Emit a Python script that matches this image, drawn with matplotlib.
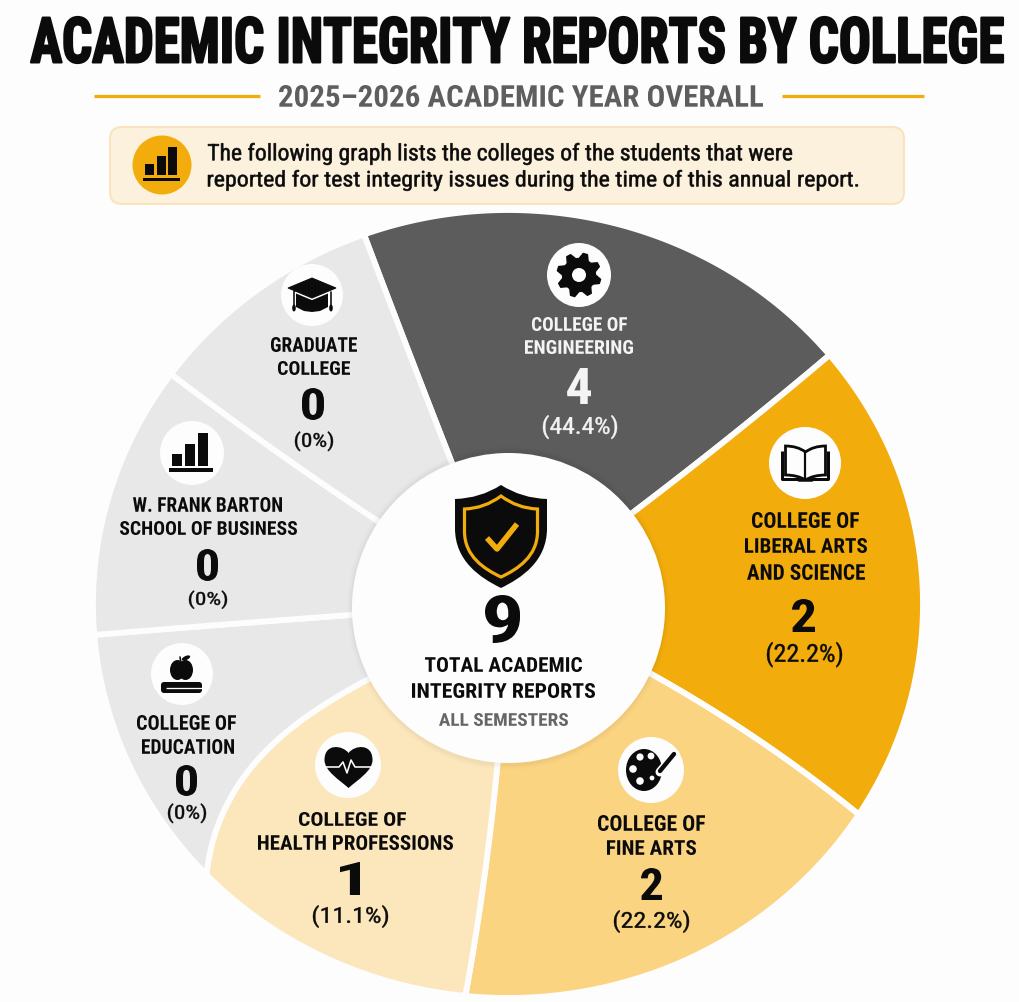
import numpy as np
import matplotlib
matplotlib.use("Agg")
import matplotlib.pyplot as plt
from matplotlib import font_manager as fm
from matplotlib.font_manager import FontProperties
from matplotlib.patches import Circle, Ellipse, FancyBboxPatch, PathPatch, Polygon, Rectangle
from matplotlib.path import Path
from matplotlib.patheffects import AbstractPathEffect
from matplotlib.textpath import TextPath
from matplotlib.transforms import Affine2D, Bbox

# ---- data ----
title = "ACADEMIC INTEGRITY REPORTS BY COLLEGE"
subtitle = "2025\u20132026 ACADEMIC YEAR OVERALL"
note_lines = ["The following graph lists the colleges of the students that were",
              "reported for test integrity issues during the time of this annual report."]
college_lines = [["COLLEGE OF", "ENGINEERING"],
                 ["COLLEGE OF", "LIBERAL ARTS", "AND SCIENCE"],
                 ["COLLEGE OF", "FINE ARTS"],
                 ["COLLEGE OF", "HEALTH PROFESSIONS"],
                 ["COLLEGE OF", "EDUCATION"],
                 ["W. FRANK BARTON", "SCHOOL OF BUSINESS"],
                 ["GRADUATE", "COLLEGE"]]
report_counts = [4, 2, 2, 1, 0, 0, 0]
report_shares = ["(44.4%)", "(22.2%)", "(22.2%)", "(11.1%)", "(0%)", "(0%)", "(0%)"]
# slice sizes as drawn in the infographic (degrees; not proportional to the counts)
drawn_sweep = [71.1, 71.5, 63.6, 40.7, 38.9, 40.2, 34.0]
total_reports = 9
center_lines = ["TOTAL ACADEMIC", "INTEGRITY REPORTS"]
center_note = "ALL SEMESTERS"

# ---- styles ----
BG = "#FDFDFD"
GOLD = "#F2AD0C"
slice_colors = ["#5C5C5C", GOLD, "#FBD482", "#FCE7BC", "#E8E8E8", "#E8E8E8", "#E8E8E8"]
INK = "#0B0B0B"
W, H = 1019, 1002
START_ANGLE = 110.3
# the dividers are not quite radial: angle offset at the hub and bend of each slice's leading edge
edge_skew = [0.4, -1.6, 5.3, 2.5, -13.9, -0.3, 1.9]
edge_bend = [1, 1, 1, 1, 2.3, 1, 1]

def pick_family():
    for fam in ["Liberation Sans Narrow", "Roboto Condensed", "Liberation Sans"]:
        try:
            fm.findfont(FontProperties(family=fam), fallback_to_default=False)
            return fam
        except ValueError:
            pass
    return "DejaVu Sans"
FAMILY = pick_family()

class VStretch(AbstractPathEffect):
    """Stretch glyphs vertically about their baseline, optionally emboldening."""
    def __init__(self, sy, embolden=0.0):
        super().__init__()
        self.sy, self.embolden = sy, embolden
    def draw_path(self, renderer, gc, tpath, affine, rgbFace=None):
        by = affine.transform_point((0, 0))[1]
        new = affine + Affine2D().translate(0, -by).scale(1, self.sy).translate(0, by)
        gc0 = renderer.new_gc()
        gc0.copy_properties(gc)
        if self.embolden > 0:
            gc0.set_linewidth(self.embolden)
            gc0.set_foreground(rgbFace)
            gc0.set_joinstyle("round")
        else:
            gc0.set_linewidth(0)
        renderer.draw_path(gc0, tpath, new, rgbFace)
        gc0.restore()

fig = plt.figure(figsize=(W / 100, H / 100), dpi=100, facecolor=BG)

# ---- donut ----
L, R, T, B = 93, 923, 210, 998
pie_ax = fig.add_axes([L / W, 1 - B / H, (R - L) / W, (B - T) / H])
wedges, _ = pie_ax.pie(drawn_sweep, colors=slice_colors, startangle=START_ANGLE, counterclock=False,
                       radius=1.0, wedgeprops=dict(edgecolor=BG, linewidth=4.2))
pie_ax.set_aspect("auto")
pie_ax.set_xlim(-1, 1)
pie_ax.set_ylim(-1, 1)

HUB = 0.36
def edge_points(i):
    """Divider i from hub to rim, as unit-circle points."""
    outer = START_ANGLE - sum(drawn_sweep[:i])
    rs = np.linspace(HUB, 1, 30)
    t = (rs - HUB) / (1 - HUB)
    ang = np.radians(outer + edge_skew[i] * (1 - t ** edge_bend[i]))
    return np.c_[rs * np.cos(ang), rs * np.sin(ang)]

for i, w in enumerate(wedges):
    j = (i + 1) % len(wedges)
    a0 = START_ANGLE - sum(drawn_sweep[:i])
    arc = np.radians(np.linspace(a0, a0 - drawn_sweep[i], 90))
    verts = np.vstack([edge_points(i), np.c_[np.cos(arc), np.sin(arc)], edge_points(j)[::-1]])
    verts = np.vstack([verts, verts[:1]])
    codes = [Path.MOVETO] + [Path.LINETO] * (len(verts) - 2) + [Path.CLOSEPOLY]
    w._path = Path(verts, codes)

# ---- overlay in picture pixels ----
ov = fig.add_axes([0, 0, 1, 1], facecolor="none")
ov.set_xlim(0, W)
ov.set_ylim(H, 0)
ov.axis("off")
PX = 0.72

def fit(s, l, r, t, b, color=INK, weight="bold", embolden=0.0, vref=None):
    """Place s so its ink fills x l..r; t..b is the ink height of vref (default s)."""
    fp = FontProperties(family=FAMILY, weight=weight)
    ext = TextPath((0, 0), s, size=100, prop=fp).get_extents()
    vext = TextPath((0, 0), vref, size=100, prop=fp).get_extents() if vref else ext
    k = (r - l) / ext.width
    sy = (b - t) / (vext.height * k)
    base = b + vext.y0 * k * sy
    txt = ov.text(l - ext.x0 * k, base, s, fontproperties=fp, fontsize=100 * k * 72 / 100,
                  ha="left", va="baseline", color=color, zorder=6,
                  path_effects=[VStretch(sy, embolden)])
    # the stretch is invisible to layout, so report the box of the ink actually drawn
    y_top = base - ext.y1 * k * sy
    y_bot = base - ext.y0 * k * sy
    ink = Bbox.from_extents(l, H - y_bot, r, H - y_top)
    txt.get_window_extent = lambda renderer=None, dpi=None: ink
    return txt

def shape(verts, codes, fc=INK, ec="none", lw=0, z=5):
    ov.add_patch(PathPatch(Path(verts, codes), fc=fc, ec=ec, lw=lw, zorder=z))

def line(xs, ys, color=INK, lw=2, z=5, cap="round"):
    ov.plot(xs, ys, color=color, lw=lw * PX, zorder=z, solid_capstyle=cap, solid_joinstyle="round")

def rect(x0, y0, x1, y1, fc=INK, z=5):
    ov.add_patch(Rectangle((x0, y0), x1 - x0, y1 - y0, fc=fc, ec="none", zorder=z))

def badge(cx, cy, r):
    ov.add_patch(Circle((cx, cy), r, fc=BG, ec="none", zorder=4))

def bars_icon(x0, x1, base_top, base_bot, bars):
    rect(x0, base_top, x1, base_bot)
    for a, b, top, bot in bars:
        rect(a, top, b, bot)

def shield(cx, top, corner, w, bot, **kw):
    mid = corner + (bot - corner) * 0.33
    v = [(cx, top), (cx - w * .45, corner - (corner - top) * .05), (cx - w, corner),
         (cx - w, mid), (cx - w, mid + (bot - mid) * .55), (cx - w * .45, bot - (bot - mid) * .17), (cx, bot),
         (cx + w * .45, bot - (bot - mid) * .17), (cx + w, mid + (bot - mid) * .55), (cx + w, mid),
         (cx + w, corner), (cx + w * .45, corner - (corner - top) * .05), (cx, top), (cx, top)]
    c = [Path.MOVETO, Path.CURVE3, Path.CURVE3, Path.LINETO, Path.CURVE4, Path.CURVE4, Path.CURVE4,
         Path.CURVE4, Path.CURVE4, Path.CURVE4, Path.LINETO, Path.CURVE3, Path.CURVE3, Path.CLOSEPOLY]
    shape(v, c, **kw)

# header
fit(title, 31, 1003, 17, 63, embolden=1.6)
fit(subtitle, 279, 763, 85, 107, color="#5E5E5E")
line([94, 260], [96, 96], GOLD, 3.2, cap="butt")
line([782, 924], [96, 96], GOLD, 3.2, cap="butt")
ov.add_patch(FancyBboxPatch((110, 127), 794, 77, boxstyle="round,pad=0,rounding_size=12",
                            fc="#FCF1DC", ec="#F9E4BF", lw=1.5, zorder=2))
ov.add_patch(Circle((162, 165), 29.5, fc=GOLD, ec="none", zorder=4))
bars_icon(143, 180, 177.5, 181, [(145, 154, 164, 175), (157, 166, 156, 175), (168, 177, 147, 175)])
fit(note_lines[0], 208, 792, 143, 165, weight="normal", embolden=0.4)
fit(note_lines[1], 208, 858, 170, 191, weight="normal", embolden=0.4)

# slice label boxes (left, right, top, bottom) in picture pixels
name_boxes = [
    [(532, 627, 317, 331), (525, 633, 340, 354)],
    [(752, 859, 512, 528), (745, 867, 538, 553), (747, 865, 564, 580)],
    [(598, 705, 815, 831), (607, 696, 840, 855)],
    [(299, 406, 812, 826), (258, 453, 835, 850)],
    [(137, 236, 715, 730), (142, 234, 739, 754)],
    [(133, 282, 497, 512), (120, 297, 521, 535)],
    [(271, 357, 337, 352), (278, 350, 361, 375)],
]
count_boxes = [(567, 591, 368, 404), (792, 815, 599, 632), (641, 662, 868, 900), (340, 360, 862, 895),
               (176, 197, 765, 796), (197, 218, 549, 581), (302, 324, 388, 420)]
# top/bottom here are those of the digits inside the brackets
share_boxes = [(543, 617, 417, 434), (767, 842, 644, 662), (614, 689, 912, 928), (313, 388, 907, 923),
               (168, 206, 805, 819), (189, 227, 592, 605), (295, 333, 433, 447)]
text_colors = ["#F4F4F4"] + [INK] * 6
for lines, nb, cnt, cb, sh, sb, col in zip(college_lines, name_boxes, report_counts, count_boxes,
                                           report_shares, share_boxes, text_colors):
    for s, b in zip(lines, nb):
        fit(s, *b, color=col)
    fit(str(cnt), *cb, color=col)
    fit(sh, *sb, color=col, weight="normal", embolden=0.3, vref="0")

# icon badges
badge(579, 275, 32); badge(805, 463, 36); badge(651, 770, 33); badge(348, 765, 33)
badge(182, 674, 31); badge(192, 453, 32); badge(312, 295, 31)

# gear
teeth = 8
ang = np.linspace(0, 2 * np.pi, teeth * 4, endpoint=False) + np.pi / teeth / 2
rad = np.tile([22, 22, 16.5, 16.5], teeth)
ov.add_patch(Polygon(np.c_[579 + rad * np.cos(ang), 275 + rad * np.sin(ang)], fc=INK, ec=INK, lw=1, joinstyle="round", zorder=5))
ov.add_patch(Circle((579, 275), 7, fc=BG, ec="none", zorder=6))

# book
for sgn in (-1, 1):
    cx = 805.5
    v = [(cx, 452), (cx + sgn * 8, 446), (cx + sgn * 20, 446), (cx + sgn * 20, 446), (cx + sgn * 20, 475),
         (cx + sgn * 8, 475), (cx, 480)]
    c = [Path.MOVETO, Path.CURVE3, Path.CURVE3, Path.LINETO, Path.LINETO, Path.CURVE3, Path.CURVE3]
    shape(v, c, fc="none", ec=INK, lw=2.8 * PX)
    line([cx + sgn * 23, cx + sgn * 23, cx + sgn * 6], [451, 479, 479], INK, 3, cap="butt")
line([799, 812], [480, 480], INK, 3.5)
line([805.5, 805.5], [452, 479], INK, 2.2)

# palette
ov.add_patch(Ellipse((644, 770), 36, 42, fc=INK, ec="none", zorder=5))
for dx, dy, r in [(-4, -13, 3.6), (7, -14, 3.4), (-11, -1, 3.8), (-4, 11, 3.8), (8, 8, 2.4)]:
    ov.add_patch(Circle((644 + dx, 770 + dy), r, fc=BG, ec="none", zorder=6))
line([660, 675], [772, 754], BG, 9, z=6)
line([660, 674], [771, 754], INK, 4.4, z=7)

# heart with pulse
cx = 348.5
shape([(cx, 753), (cx - 6, 745), (cx - 24, 743), (cx - 24, 760), (cx - 24, 771), (cx - 9, 780), (cx, 788),
       (cx + 9, 780), (cx + 24, 771), (cx + 24, 760), (cx + 24, 743), (cx + 6, 745), (cx, 753), (cx, 753)],
      [Path.MOVETO] + [Path.CURVE4] * 12 + [Path.CLOSEPOLY])
line([324, 339, 343, 347, 351, 355, 373], [767, 767, 762, 773, 760, 767, 767], BG, 1.6, z=6)

# apple on books
ov.add_patch(Ellipse((177.5, 670), 15, 20, fc=INK, ec="none", zorder=5))
ov.add_patch(Ellipse((185.5, 670), 15, 20, fc=INK, ec="none", zorder=5))
line([181, 180], [663, 657], INK, 1.6)
ov.add_patch(Ellipse((186, 658), 9, 4, angle=-25, fc=INK, ec="none", zorder=5))
ov.add_patch(FancyBboxPatch((161, 682), 41, 11, boxstyle="round,pad=0,rounding_size=3", fc=INK, ec="none", zorder=5))
line([166, 202], [687.5, 687.5], BG, 1.3, z=6, cap="butt")

# business bars
bars_icon(169, 213, 468, 472, [(172, 182, 454, 466), (185, 195, 444, 466), (198, 208, 433, 466)])

# graduation cap
shape([(296, 290), (328, 290), (328, 307), (320, 311), (312, 312), (304, 311), (296, 307), (296, 290)],
      [Path.MOVETO] + [Path.LINETO] * 6 + [Path.CLOSEPOLY])
line([288, 312, 336, 312, 288], [288, 278, 288, 298, 288], BG, 4, z=6)
ov.add_patch(Polygon([(288, 288), (312, 278), (336, 288), (312, 298)], fc=INK, ec=INK, lw=.7, zorder=7))
line([308, 294, 294], [285, 291, 306], INK, 1.6, z=7)
line([331, 331], [292, 306], INK, 1.6, z=7)
ov.add_patch(Ellipse((294, 308), 3.6, 7, fc=INK, ec="none", zorder=7))
ov.add_patch(Ellipse((331, 308), 3.6, 7, fc=INK, ec="none", zorder=7))

# centre disc with faint shadow
for extra, a in [(5, .01), (3, .015), (1.5, .02)]:
    ov.add_patch(Circle((508.5, 608), 156.5 + extra, fc="black", alpha=a, ec="none", zorder=2.5))
ov.add_patch(Ellipse((508.5, 608), 313, 310, fc=BG, ec="none", zorder=3))
shield(501, 485, 499, 46, 588, fc=INK, z=5)
shield(501, 496, 509, 36.5, 577, fc="none", ec=GOLD, lw=3.2 * PX, z=6)
line([487, 497, 517], [538, 549, 524], GOLD, 5.5, z=6, cap="butt")

fit(str(total_reports), 485, 520, 595, 643)
fit(center_lines[0], 425, 582, 657, 672)
fit(center_lines[1], 412, 595, 683, 698)
fit(center_note, 439, 568, 713, 726, color="#666666")

fig.savefig("out.png", dpi=100, facecolor=BG)
